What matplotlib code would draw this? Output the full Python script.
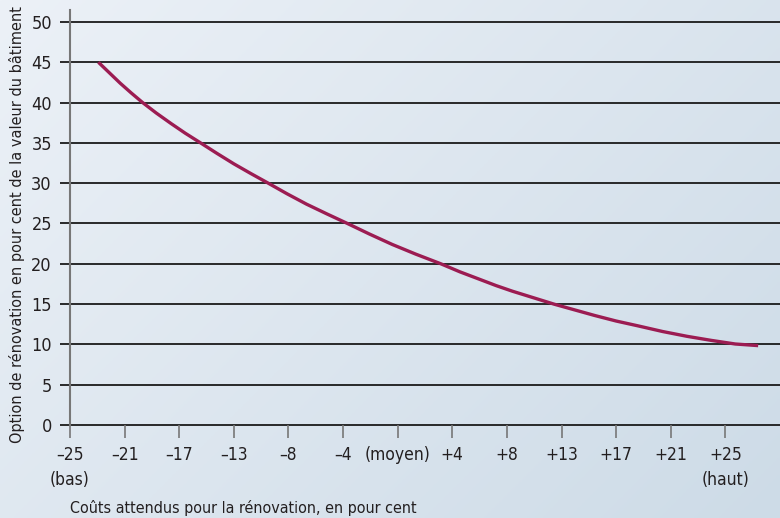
import matplotlib
matplotlib.use('Agg')
import matplotlib.pyplot as plt
import numpy as np

# ── Data (x in category-index units along the cost axis) ─────────────────────
x_labels = ['\u201325\n(bas)', '\u201321', '\u201317', '\u201313', '\u20138', '\u20134',
            '(moyen)', '+4', '+8', '+13', '+17', '+21', '+25\n(haut)']
curve_x = [0.52, 0.72, 0.92, 1.12, 1.33, 1.58, 1.85, 2.11, 2.39, 2.69, 3.0, 3.31,
           3.63, 3.97, 4.33, 4.7, 5.08, 5.48, 5.9, 6.33, 6.79, 7.14, 7.49, 7.8,
           8.1, 8.48, 8.86, 9.23, 9.6, 10.0, 10.4, 10.85, 11.3, 11.74, 12.18, 12.6]
curve_y = [45.0, 43.7, 42.4, 41.2, 40.0, 38.7, 37.4, 36.2, 35.0, 33.7, 32.4, 31.2,
           30.0, 28.7, 27.4, 26.2, 25.0, 23.7, 22.4, 21.2, 20.0, 19.0, 18.1, 17.3,
           16.6, 15.8, 15.0, 14.3, 13.6, 12.9, 12.3, 11.6, 11.0, 10.5, 10.05, 9.85]
y_ticks = [0, 5, 10, 15, 20, 25, 30, 35, 40, 45, 50]

LINE_COLOR = '#9c1c52'
TEXT_COLOR = '#231f20'

plt.rcParams['font.family'] = ['DejaVu Sans']
plt.rcParams['font.stretch'] = 'condensed'

fig = plt.figure(figsize=(7.8, 5.18), dpi=100)

# gradient background over the whole figure
bg = fig.add_axes([0, 0, 1, 1], zorder=-10)
gx, gy = np.meshgrid(np.linspace(0, 1, 200), np.linspace(0, 1, 200))
t = 0.6 * gx + 0.4 * gy
c0 = np.array([236, 241, 247]) / 255
c1 = np.array([205, 219, 231]) / 255
img = c0[None, None, :] * (1 - t[..., None]) + c1[None, None, :] * t[..., None]
bg.imshow(img, aspect='auto', extent=[0, 1, 0, 1], origin='upper')
bg.axis('off')

ax = fig.add_axes([0.0897, 0.1795, 0.9103, 0.8015])
ax.patch.set_alpha(0)

for v in y_ticks:
    ax.axhline(v, color='#1a1a1a', linewidth=1.3, zorder=1, clip_on=False)

ax.plot(curve_x, curve_y, color=LINE_COLOR, linewidth=2.4, zorder=3,
        solid_capstyle='butt')

ax.set_xlim(0, 13)
ax.set_ylim(0, 51.5)
ax.set_xticks(range(len(x_labels)))
ax.set_xticklabels(x_labels, fontsize=12.5, color=TEXT_COLOR, linespacing=1.5)
ax.set_yticks(y_ticks)
ax.set_yticklabels([str(v) for v in y_ticks], fontsize=13, color=TEXT_COLOR)

ax.tick_params(axis='x', direction='out', length=9, width=1.2, color='#777777', pad=6)
ax.tick_params(axis='y', direction='out', length=7, width=1.3, color='#1a1a1a', pad=6)

for s in ['top', 'right']:
    ax.spines[s].set_visible(False)
ax.spines['left'].set_color('#777777')
ax.spines['left'].set_linewidth(1.5)
ax.spines['bottom'].set_visible(False)

ax.set_ylabel('Option de r\u00e9novation en pour cent de la valeur du b\u00e2timent',
              fontsize=11.6, color=TEXT_COLOR)
ax.yaxis.set_label_coords(-0.064, 0.484)
fig.text(0.0897, 0.004, 'Co\u00fbts attendus pour la r\u00e9novation, en pour cent',
         fontsize=11.5, color=TEXT_COLOR, ha='left', va='bottom')

plt.savefig('out.png', dpi=100)
